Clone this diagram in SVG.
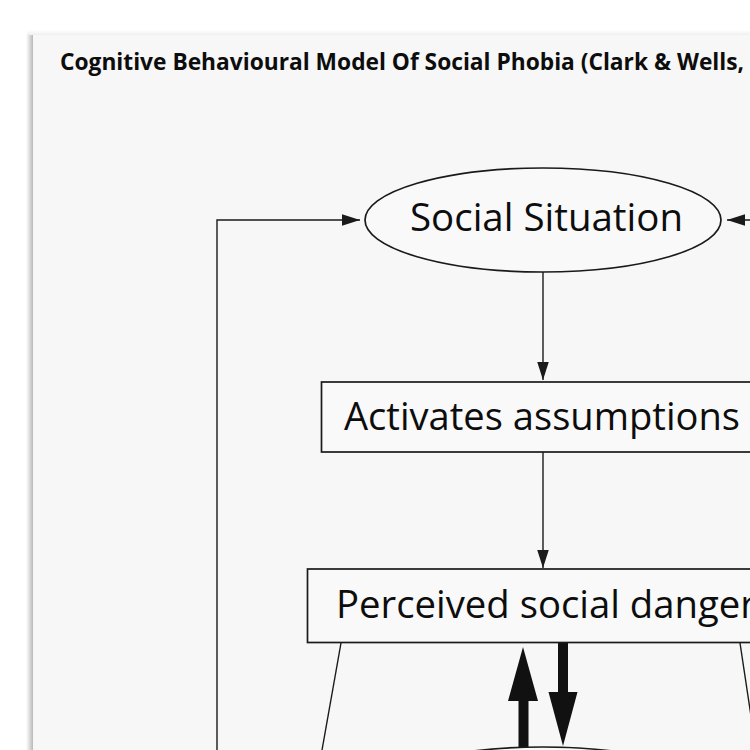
<svg xmlns="http://www.w3.org/2000/svg" width="750" height="750" viewBox="0 0 750 750">
  <defs>
    <linearGradient id="shadowL" x1="0" y1="0" x2="1" y2="0">
      <stop offset="0" stop-color="#ffffff"/>
      <stop offset="0.6" stop-color="#d6d6d6"/>
      <stop offset="1" stop-color="#b8b8b8"/>
    </linearGradient>
    <linearGradient id="shadowT" x1="0" y1="0" x2="0" y2="1">
      <stop offset="0" stop-color="#ffffff"/>
      <stop offset="1" stop-color="#ececec"/>
    </linearGradient>
    <marker id="arr" viewBox="0 0 10 10" refX="10" refY="5" markerWidth="18" markerHeight="18" markerUnits="userSpaceOnUse" orient="auto">
      <path d="M0,1.8 L10,5 L0,8.2 Z" fill="#1a1a1a"/>
    </marker>
    <style>
      .line { stroke:#1a1a1a; stroke-width:1.4; fill:none; }
      .shape { stroke:#1a1a1a; stroke-width:1.7; fill:#f9f9f9; }
      .lbl { font-family:"Open Sans","Noto Sans","Liberation Sans",sans-serif; font-size:38px; fill:#0d0d0d; }
      .title { font-family:"Open Sans","Noto Sans","Liberation Sans",sans-serif; font-size:24px; font-weight:bold; fill:#0d0d0d; }
      .thick { fill:#111111; }
    </style>
  </defs>

  <!-- background / paper -->
  <rect x="0" y="0" width="750" height="750" fill="#ffffff"/>
  <rect x="27" y="30" width="723" height="6" fill="url(#shadowT)"/>
  <rect x="26" y="35" width="7" height="715" fill="url(#shadowL)"/>
  <rect x="33" y="35" width="717" height="715" fill="#f7f7f7"/>

  <text class="title" x="60" y="70" textLength="684" lengthAdjust="spacingAndGlyphs">Cognitive Behavioural Model Of Social Phobia (Clark &amp; Wells,</text>

  <g id="connectors">
    <path class="line" d="M217,750 L217,220 L360,220" marker-end="url(#arr)"/>
    <path class="line" d="M760,220 L727,220" marker-end="url(#arr)"/>
    <path class="line" d="M543,272 L543,380" marker-end="url(#arr)"/>
    <path class="line" d="M543,452 L543,568" marker-end="url(#arr)"/>
    <path class="line" d="M341,643 L322,750"/>
    <path class="line" d="M740,643 L751,716"/>
    <!-- thick up arrow -->
    <path class="thick" d="M523,647 L538,701 L528.5,701 L528.5,748 L518.5,748 L518.5,701 L508,701 Z"/>
    <!-- thick down arrow -->
    <path class="thick" d="M558,643 L568,643 L568,692 L577.5,692 L563,746 L548.5,692 L558,692 Z"/>
  </g>

  <g id="node-social-situation">
    <ellipse class="shape" cx="543" cy="220" rx="178" ry="52"/>
    <text class="lbl" x="410" y="231" textLength="273" lengthAdjust="spacingAndGlyphs">Social Situation</text>
  </g>

  <g id="node-activates-assumptions">
    <rect class="shape" x="321.5" y="382" width="450" height="70"/>
    <text class="lbl" x="344" y="430" textLength="396" lengthAdjust="spacingAndGlyphs">Activates assumptions</text>
  </g>

  <g id="node-perceived-social-danger">
    <rect class="shape" x="307.5" y="569" width="470" height="73.5"/>
    <text class="lbl" x="336" y="618" textLength="420" lengthAdjust="spacingAndGlyphs">Perceived social danger</text>
  </g>

  <g id="node-bottom-ellipse">
    <ellipse class="shape" cx="543" cy="800" rx="178" ry="53"/>
  </g>
</svg>
